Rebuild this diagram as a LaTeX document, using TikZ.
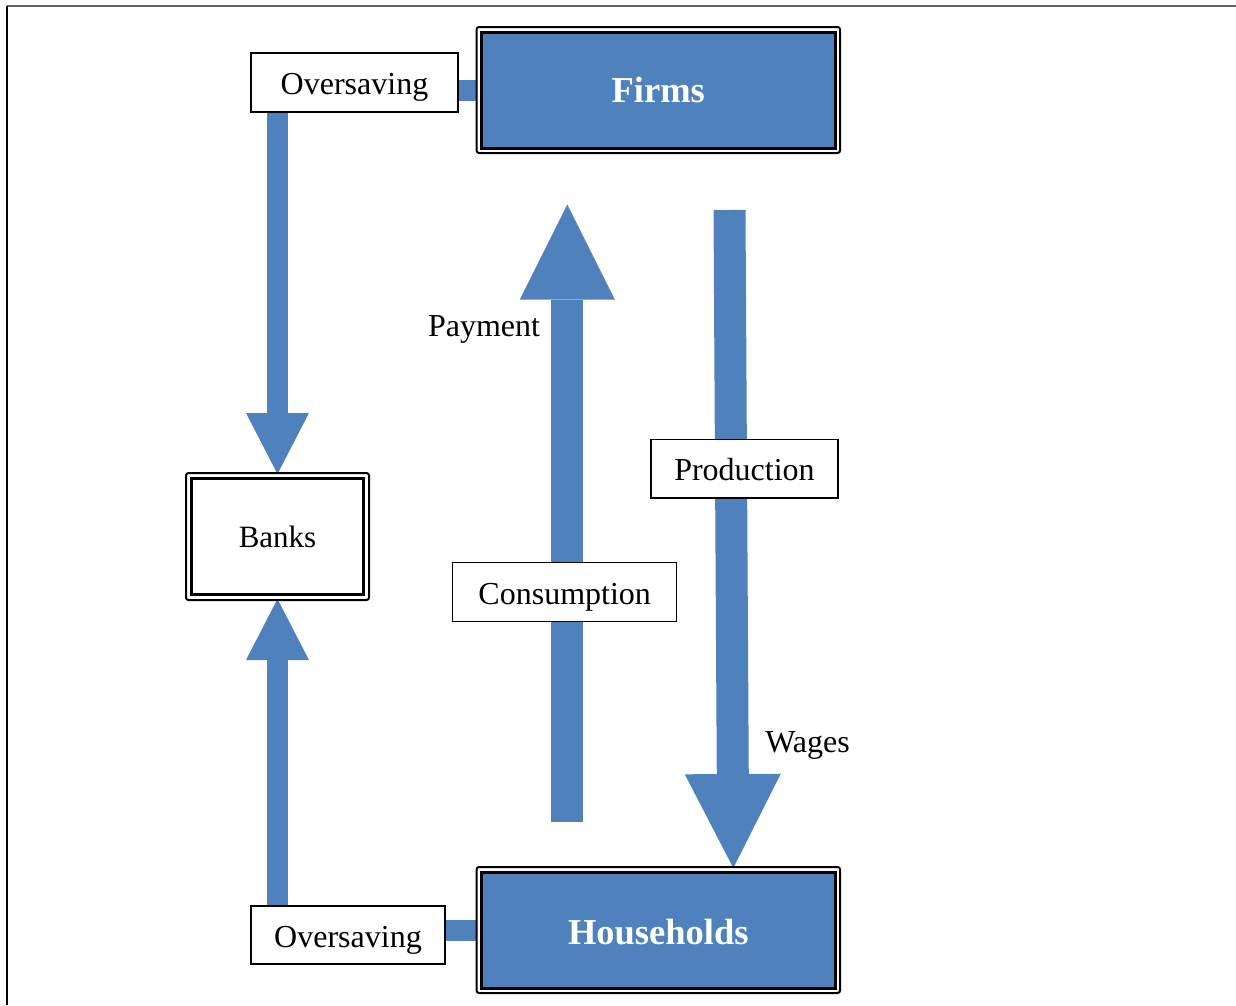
\documentclass[tikz,border=0pt]{standalone}
\usepackage{fontspec}
\setmainfont{Liberation Serif}
\usetikzlibrary{arrows.meta,calc,backgrounds}
\definecolor{accblue}{HTML}{4F81BD}
\definecolor{framegray}{HTML}{606060}
\begin{document}
\begin{tikzpicture}[x=1pt,y=-1pt,
  txt/.style={font=\fontsize{32}{38}\selectfont, inner sep=0pt},
  plainbox/.style={draw=black, line width=1.5pt, fill=white, inner sep=0pt,
    font=\fontsize{32}{38}\selectfont, text height=30pt, text depth=6pt},
  outerbox/.style={draw=black, line width=2pt, fill=white, rounded corners=2.5pt, inner sep=0pt},
  innerbox/.style={draw=black, line width=3pt, inner sep=0pt},
  bluebox/.style={innerbox, fill=accblue, text=white,
    font=\fontsize{36.5}{42}\selectfont\bfseries},
  thinflow/.style={draw=accblue, line width=21pt, shorten >=-2pt,
    -{Triangle[width=63pt,length=61pt,line width=0pt]}},
  thickflow/.style={draw=accblue, line width=32pt, shorten >=-2pt,
    -{Triangle[width=95pt,length=95pt,line width=0pt]}},
  bar/.style={draw=accblue, line width=21pt}
]
\useasboundingbox (0,0) rectangle (1236,1005);
% outer frame
\draw[framegray, line width=2pt] (7,6) -- (1236,6);
\draw[black, line width=1.5pt] (7,6) -- (7,1005);

% main boxes
\node[outerbox, minimum width=363.5pt, minimum height=126pt] (firms) at (658.3,90) {};
\node[bluebox, minimum width=354pt, minimum height=116pt] (firmsin) at (firms.center) {Firms};
\node[outerbox, minimum width=363.5pt, minimum height=126pt] (hh) at (658.3,930) {};
\node[bluebox, minimum width=354pt, minimum height=116pt, text height=28pt, text depth=0pt] (hhin) at (hh.center) {Households};
\node[outerbox, minimum width=183pt, minimum height=127pt] (banks) at (277.5,536.5) {};
\node[innerbox, minimum width=172pt, minimum height=116pt, font=\fontsize{31}{36}\selectfont] (banksin) at (banks.center) {Banks};

% label boxes
\node[plainbox, minimum width=207pt, minimum height=59pt] (ovtop) at (354.5,82.5) {Oversaving};
\node[plainbox, minimum width=194pt, minimum height=58pt] (ovbot) at (348,935) {Oversaving};
\node[plainbox, minimum width=187pt, minimum height=58.5pt] (prod) at (744.5,468.5) {Production};
\node[plainbox, minimum width=224pt, minimum height=59pt] (cons) at (564.7,592.2) {Consumption};

% free labels
\node[txt, anchor=base] (pay) at (484,336) {Payment};
\node[txt, anchor=base] (wag) at (807.5,752) {Wages};

% free ends
\coordinate (pbot) at (567.3,822);
\coordinate (ptip) at (567.3,206.5);
\coordinate (wtop) at (729.5,210);
\coordinate (wtip) at ($(hh.north)+(75,0)$);

\begin{scope}[on background layer]
  \draw[bar] (firms.west) -- (firms.west -| ovtop.east);
  \draw[bar] (hh.west) -- (hh.west -| ovbot.east);
  \draw[thinflow] (banks.north |- ovtop.south) -- (banks.north);
  \draw[thinflow] (banks.south |- ovbot.north) -- (banks.south);
  \draw[thickflow] (pbot) -- (ptip);
  \draw[thickflow, -{Triangle[width=96pt,length=94pt,line width=0pt]}] (wtop) -- (wtip);
\end{scope}
\end{tikzpicture}
\end{document}
